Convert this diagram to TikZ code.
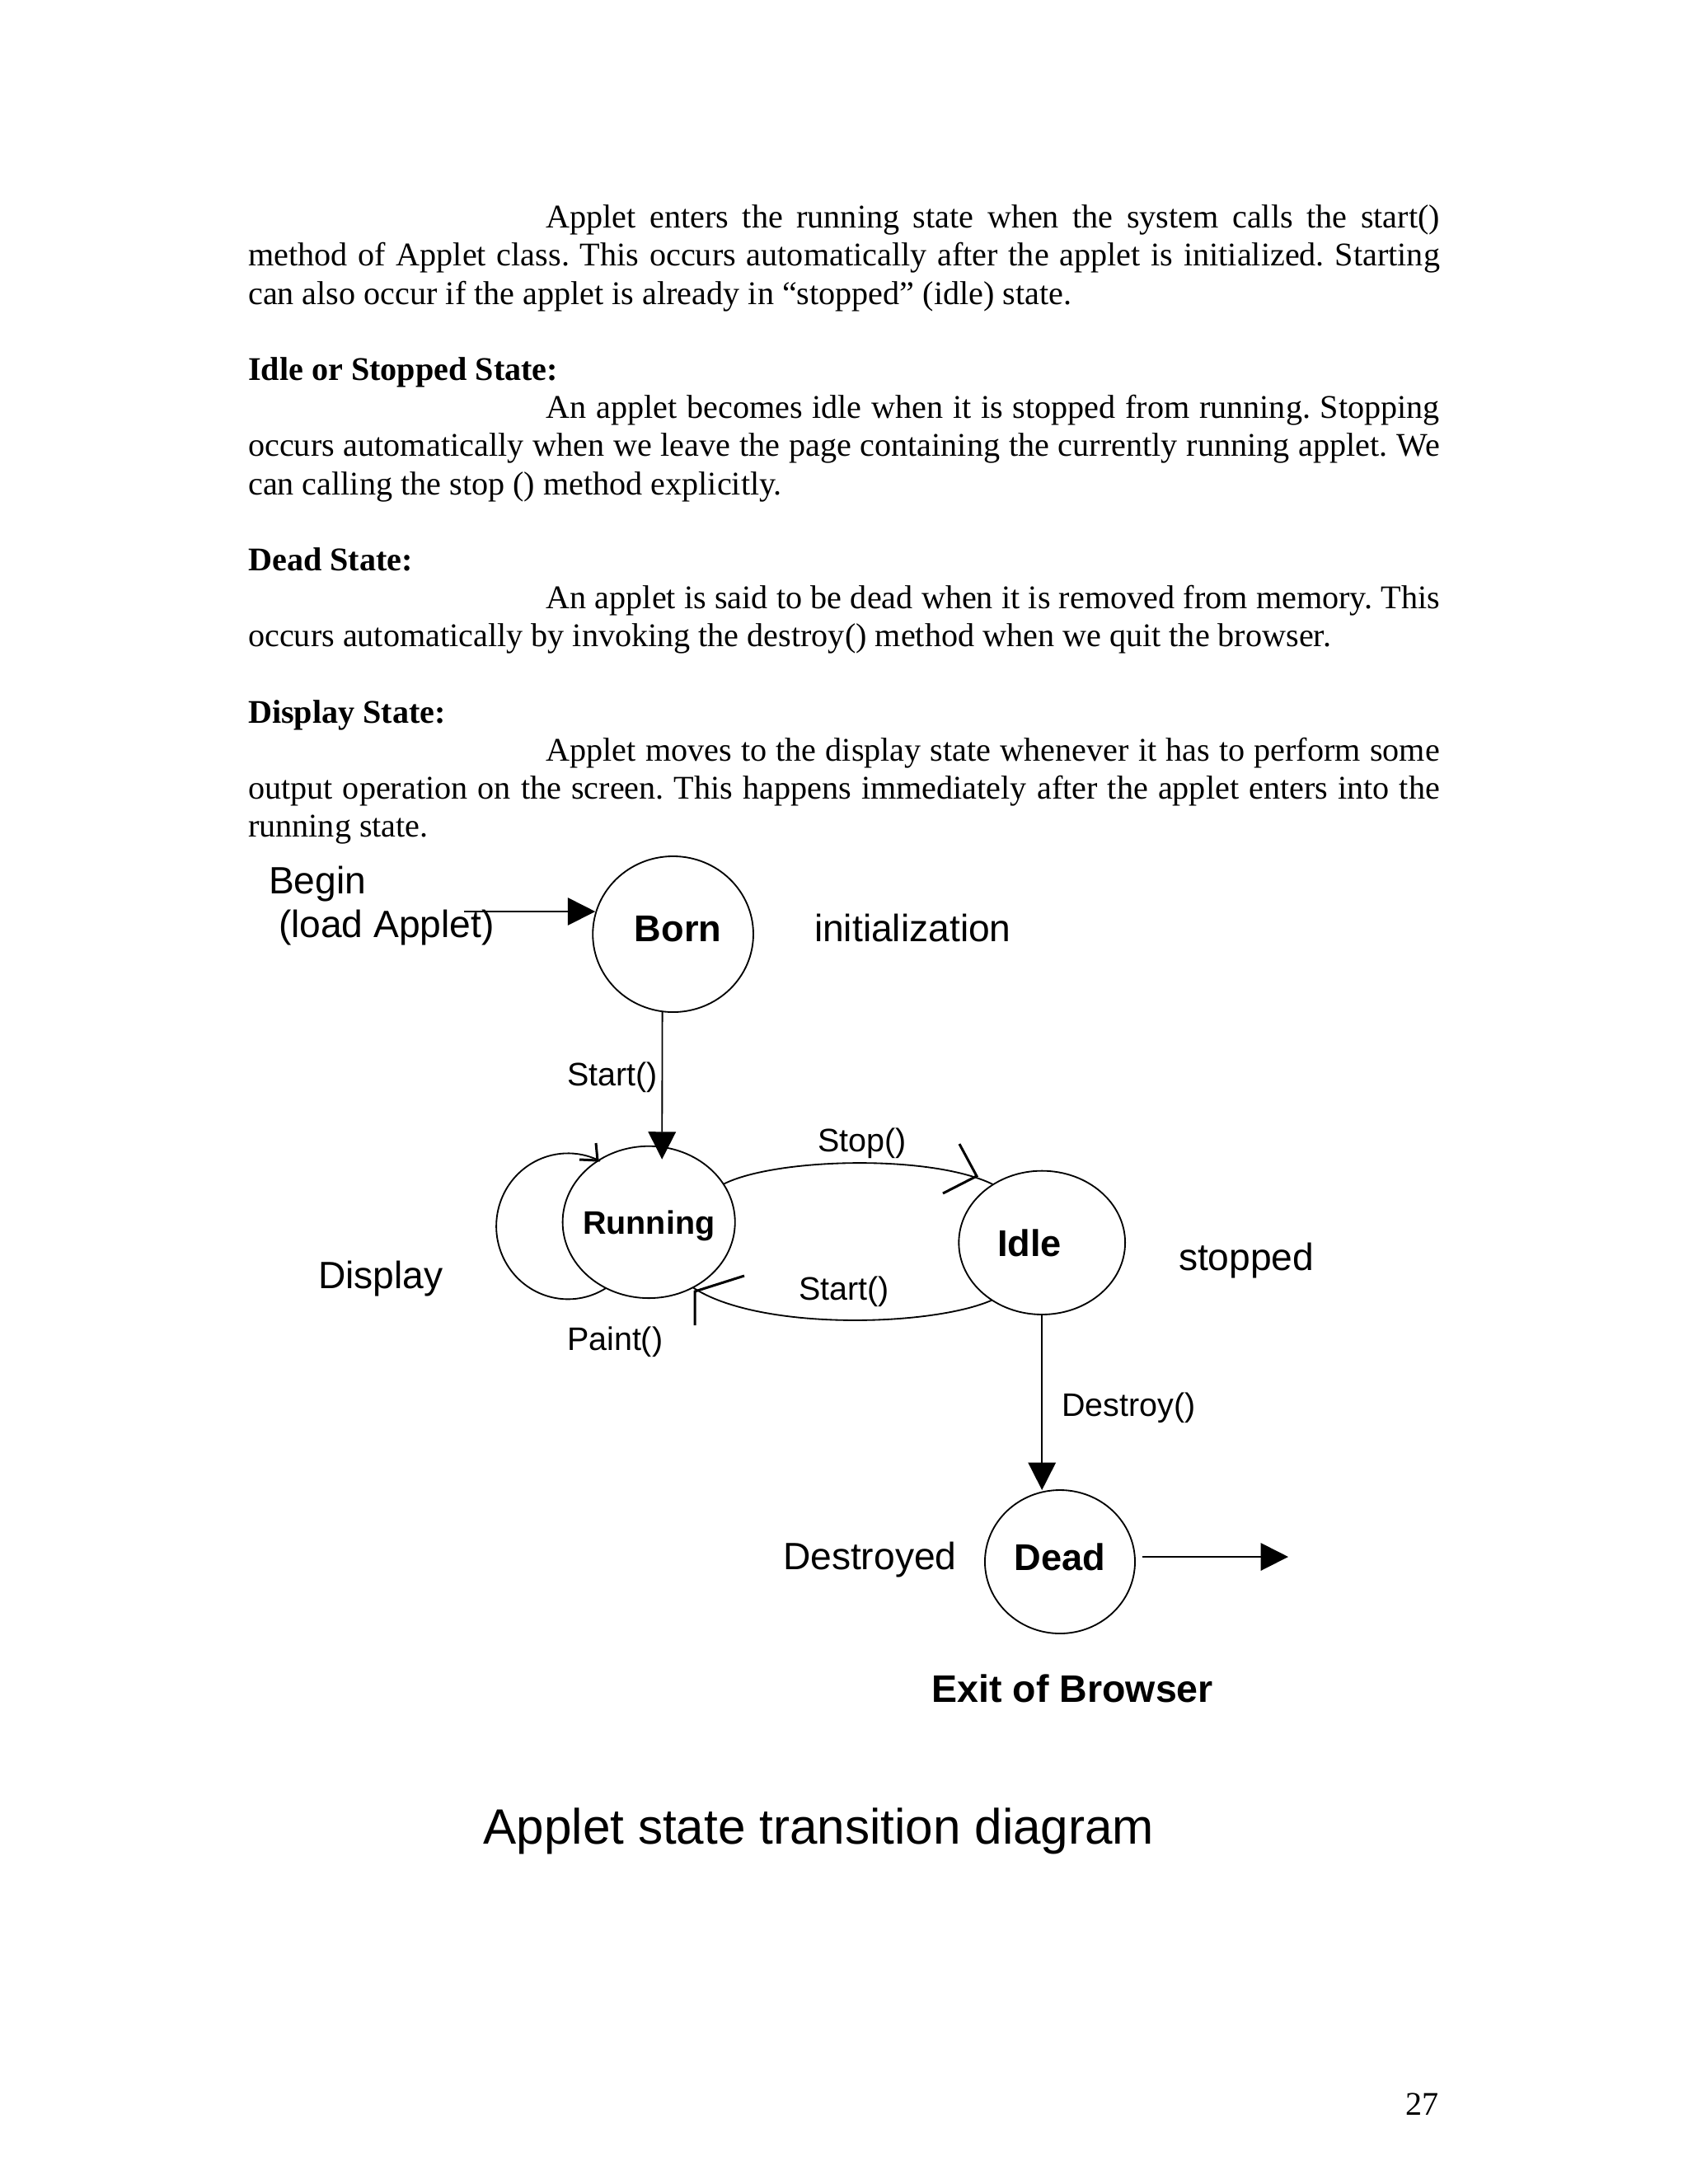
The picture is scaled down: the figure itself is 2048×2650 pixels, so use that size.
\documentclass[tikz,border=0pt]{standalone}
\usepackage{fontspec}
\setmainfont{Liberation Serif}
\newfontfamily\arialfont{Liberation Sans}
\usetikzlibrary{arrows.meta,shapes.geometric,calc}
\frenchspacing
\begin{document}
\begin{tikzpicture}[x=0.29883pt,y=-0.29883pt,
  body/.style={anchor=base west, inner sep=0pt, outer sep=0pt, font=\fontsize{12}{13.8}\selectfont},
  bodyhead/.style={anchor=base west, inner sep=0pt, outer sep=0pt, font=\fontsize{12}{13.8}\selectfont\bfseries},
  biglbl/.style={anchor=base west, inner sep=0pt, outer sep=0pt, font=\arialfont\fontsize{13.8}{16}\selectfont},
  smalllbl/.style={anchor=base west, inner sep=0pt, outer sep=0pt, font=\arialfont\fontsize{11.8}{14}\selectfont},
  state/.style={ellipse, draw, line width=0.55pt, inner sep=0pt, outer sep=0pt, text depth=0pt,
                font=\arialfont\bfseries\fontsize{13.5}{16}\selectfont},
  conn/.style={line width=0.55pt},
  solidtip/.style={-{Triangle[length=10pt,width=10pt]}},
  barb/.style={line width=0.9pt, line join=miter}]
\useasboundingbox (0,0) rectangle (2048,2650);
\fill[white] (0,0) rectangle (2048,2650);

% ---------------- body text ----------------
\node[body] (t0) at (662.6,276.7) {\makebox[324pt][s]{Applet enters the running state when the system calls the start()}};
\node[body] (t1) at (301.2,322.9) {\makebox[432pt][s]{method of Applet class. This occurs automatically after the applet is initialized. Starting}};
\node[body] (t2) at (301.2,369.1) {can also occur if the applet is already in “stopped” (idle) state.};
\node[bodyhead] (h1) at (301.2,461.4) {Idle or Stopped State:};
\node[body] (t5) at (662.6,507.6) {\makebox[324pt][s]{An applet becomes idle when it is stopped from running. Stopping}};
\node[body] (t6) at (301.2,553.8) {\makebox[432pt][s]{occurs automatically when we leave the page containing the currently running applet. We}};
\node[body] (t7) at (301.2,600.0) {can calling the stop () method explicitly.};
\node[bodyhead] (h2) at (301.2,692.3) {Dead State:};
\node[body] (t10) at (662.6,738.5) {\makebox[324pt][s]{An applet is said to be dead when it is removed from memory. This}};
\node[body] (t11) at (301.2,784.7) {occurs automatically by invoking the destroy() method when we quit the browser.};
\node[bodyhead] (h3) at (301.2,877.0) {Display State:};
\node[body] (t14) at (662.6,923.2) {\makebox[324pt][s]{Applet moves to the display state whenever it has to perform some}};
\node[body] (t15) at (301.2,969.4) {\makebox[432pt][s]{output operation on the screen. This happens immediately after the applet enters into the}};
\node[body] (t16) at (301.2,1015.6) {running state.};

% ---------------- states ----------------
\node[state, minimum width=58.2pt, minimum height=56.5pt, text height=5.5pt] (born) at (816.6,1133.5) {\makebox[0pt]{\hspace*{3.6pt}Born}};
\node[state, minimum width=62.5pt, minimum height=55.1pt, text height=8.45pt,
      font=\arialfont\bfseries\fontsize{11.8}{14}\selectfont] (running) at (787.2,1482.9) {\makebox[0pt]{Running}};
\node[state, minimum width=60.3pt, minimum height=52.1pt, text height=9.67pt] (idle) at (1264.2,1507.8) {\makebox[0pt]{\hspace*{-9pt}Idle}};
\node[state, minimum width=54.4pt, minimum height=52.0pt, text height=6.1pt] (dead) at (1286,1895) {\makebox[0pt]{Dead}};

% ---------------- labels ----------------
\node[biglbl] (lbegin) at (326,1084) {Begin};
\node[biglbl] (lload) at (338,1137) {(load Applet)};
\node[biglbl] (linit) at (988,1142) {initialization};
\node[smalllbl] (lstart1) at (688,1317) {Start()};
\node[smalllbl] (lstop) at (992,1397) {Stop()};
\node[biglbl] (ldisplay) at (386,1563) {Display};
\node[smalllbl] (lpaint) at (688,1638) {Paint()};
\node[smalllbl] (lstart2) at (969,1577) {Start()};
\node[biglbl] (lstopped) at (1430,1541) {stopped};
\node[smalllbl] (ldestroy) at (1288,1718) {Destroy()};
\node[biglbl] (ldestroyed) at (950,1904) {Destroyed};
\node[anchor=base west, inner sep=0pt, font=\arialfont\bfseries\fontsize{13.9}{16}\selectfont] (lexit) at (1130,2065) {Exit of Browser};
\node[anchor=base west, inner sep=0pt, font=\arialfont\fontsize{18}{21}\selectfont] (ltitle) at (586,2237) {Applet state transition diagram};
\node[anchor=base east, inner sep=0pt, font=\fontsize{12}{13.8}\selectfont] (pagenum) at (1746.7,2566) {27};

% ---------------- connectors ----------------
\coordinate (bstart) at (563,1106);
\draw[conn, solidtip] (bstart) -- ($(born.west |- bstart)+(3,0)$);
\draw[conn, solidtip] ($(born.south)+(-13,0)$) -- ($(running.north)+(16,16)$);
% Stop()
\draw[conn] (running.27) .. controls (940,1405) and (1130,1400) .. (idle.130);
\draw[barb] (1164,1388) -- (1185,1427) -- (1144,1448);
% Start() back
\draw[conn] (idle.229) .. controls (1130,1610) and (920,1615) .. (running.304);
\draw[barb] (903,1548) -- (843,1567) -- (843,1608);
% Paint() loop
\draw[conn] (running.237) arc[start angle=58, end angle=296.6, x radius=87, y radius=88.5];
\draw[barb] (723,1387) -- (725,1408) -- (703,1407);
% Destroy()
\draw[conn, solidtip] (idle.south) -- (idle.south |- dead.north);
% exit
\coordinate (exitend) at (1563,1889);
\draw[conn, solidtip] ($(dead.east)+(9,-6)$) -- (exitend);
\end{tikzpicture}
\end{document}
